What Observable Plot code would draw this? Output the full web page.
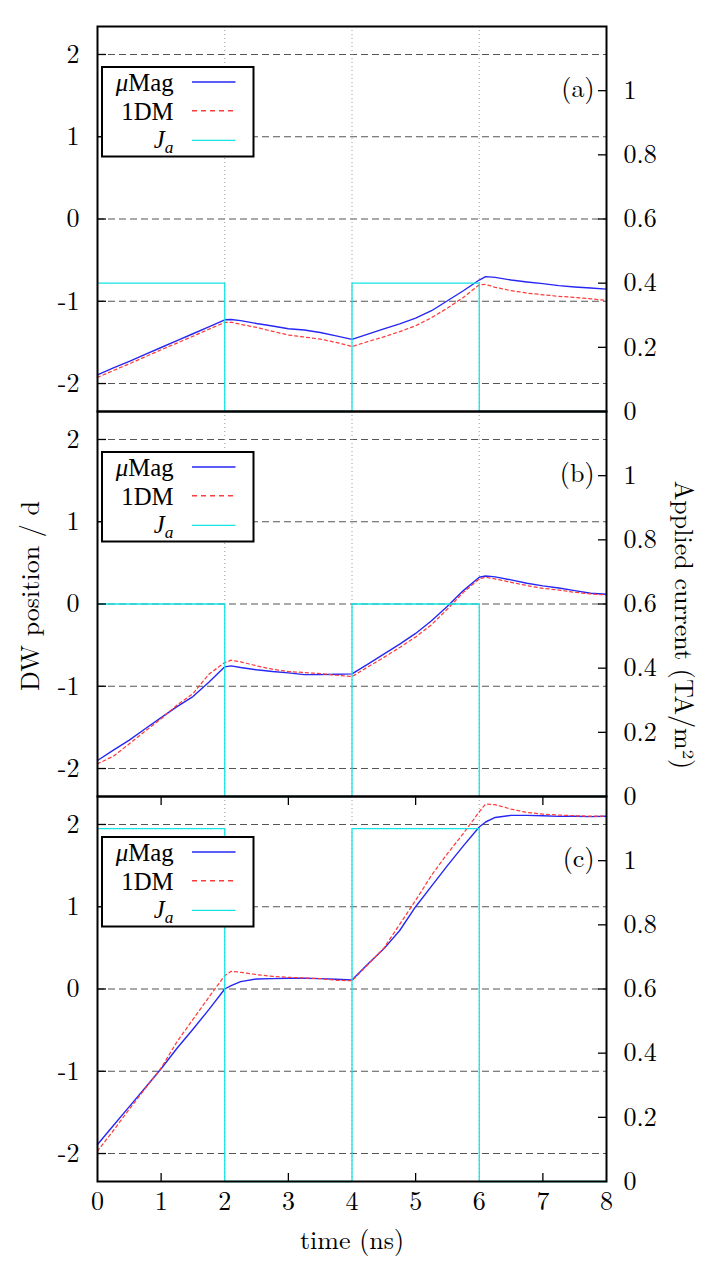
<!DOCTYPE html>
<html>
<head>
<meta charset="utf-8">
<script src="https://cdn.jsdelivr.net/npm/d3@7"></script>
<script src="https://cdn.jsdelivr.net/npm/@observablehq/plot@0.6"></script>
<style>
  body { margin: 0; background: #fff; }
  #figure { position: relative; width: 717px; height: 1284px; overflow: hidden; background: #fff; }
  #figure svg { position: absolute; left: 0; }
</style>
</head>
<body>
<div id="figure"></div>
<script>
// Sample times (ns) shared by every simulated trace
const time = [0, 0.25, 0.5, 0.75, 1, 1.25, 1.5, 1.75, 2, 2.1, 2.25, 2.5, 2.75, 3, 3.25, 3.5, 3.75, 4,
              4.25, 4.5, 4.75, 5, 5.25, 5.5, 5.75, 6, 6.1, 6.25, 6.5, 6.75, 7, 7.25, 7.5, 7.75, 8];

// Domain-wall position (units of d), micromagnetic simulation
const muMagA = [-1.894, -1.81, -1.73, -1.645, -1.562, -1.478, -1.395, -1.31, -1.225, -1.222, -1.235, -1.27,
                -1.30, -1.334, -1.35, -1.379, -1.42, -1.464, -1.40, -1.335, -1.274, -1.205, -1.115, -0.994,
                -0.872, -0.742, -0.70, -0.71, -0.742, -0.766, -0.786, -0.81, -0.826, -0.838, -0.852];
const muMagB = [-1.902, -1.776, -1.654, -1.516, -1.382, -1.248, -1.125, -0.95, -0.764, -0.752, -0.772, -0.80,
                -0.821, -0.837, -0.858, -0.858, -0.854, -0.85, -0.732, -0.61, -0.488, -0.358, -0.203, -0.028,
                0.163, 0.325, 0.341, 0.33, 0.293, 0.252, 0.22, 0.195, 0.163, 0.13, 0.118];
const muMagC = [-1.89, -1.66, -1.43, -1.20, -0.97, -0.72, -0.49, -0.25, 0.0, 0.04, 0.089, 0.122,
                0.126, 0.13, 0.13, 0.126, 0.118, 0.11, 0.305, 0.488, 0.711, 1.0, 1.25, 1.5,
                1.74, 1.97, 2.03, 2.085, 2.11, 2.11, 2.106, 2.098, 2.10, 2.095, 2.10];

// Domain-wall position (units of d), one-dimensional model
const oneDmA = [-1.926, -1.842, -1.76, -1.675, -1.59, -1.508, -1.425, -1.34, -1.257, -1.255, -1.28, -1.318,
                -1.365, -1.41, -1.435, -1.46, -1.50, -1.55, -1.49, -1.432, -1.37, -1.298, -1.20, -1.083,
                -0.953, -0.80, -0.795, -0.83, -0.87, -0.90, -0.921, -0.94, -0.953, -0.97, -0.99];
const oneDmB = [-1.943, -1.85, -1.70, -1.545, -1.394, -1.228, -1.09, -0.854, -0.711, -0.683, -0.703, -0.752,
                -0.793, -0.821, -0.833, -0.846, -0.866, -0.882, -0.764, -0.65, -0.528, -0.40, -0.252, -0.061,
                0.142, 0.305, 0.325, 0.305, 0.264, 0.224, 0.19, 0.17, 0.142, 0.122, 0.11];
const oneDmC = [-1.97, -1.72, -1.46, -1.21, -0.96, -0.64, -0.37, -0.10, 0.163, 0.215, 0.203, 0.175,
                0.154, 0.142, 0.134, 0.126, 0.106, 0.10, 0.297, 0.496, 0.785, 1.077, 1.382, 1.646,
                1.89, 2.154, 2.248, 2.24, 2.187, 2.146, 2.126, 2.114, 2.106, 2.10, 2.10];

// Applied current pulses (TA/m^2): amplitude per panel, on/off switching times
const panelNames = ["(a)", "(b)", "(c)"];
const currentLevel = [0.4, 0.6, 1.1];
const pulseTime = [0, 2, 4, 6, 8];
const pulseOn = [1, 0, 1, 0, 0];

// Tick values
const posTicks = [-2, -1, 0, 1, 2];
const currentTicks = [0, 0.2, 0.4, 0.6, 0.8, 1];
const timeTicks = [0, 1, 2, 3, 4, 5, 6, 7, 8];
const timeMarkTicks = [1, 3, 5, 7];
const timeGrid = [2, 4, 6];

const muMag = [muMagA, muMagB, muMagC];
const oneDm = [oneDmA, oneDmB, oneDmC];

const SERIF = "Latin Modern Roman, Liberation Serif, serif";
const SERIF_COMPACT = "Liberation Serif, Latin Modern Roman, serif";
const BLUE = "#2626f5", RED = "#ff3c3c", CYAN = "#14e4e4";
const W = 717, ML = 97, MR = 111, PH = 385;
const PW = W - ML - MR;
const panelTops = [26, 411, 796];
const posDomain = [-2.34, 2.34];
// right-hand current axis [0, 1.2] shares the frame with position [-2.34, 2.34]
const toPos = j => (j - 0.6) * (posDomain[1] / 0.6);

const figure = document.getElementById("figure");

function setFamily(node, family) {
  node.setAttribute("font-family", family);
  node.style.fontFamily = family;
}

function drawPanel(i) {
  const mt = i === 0 ? 26 : 12;
  const mb = i === 2 ? 103 : 12;
  const rows = time.map((t, k) => ({t, mu: muMag[i][k], dm: oneDm[i][k]}));
  const pulse = pulseTime.map((t, k) => ({t, j: pulseOn[k] * currentLevel[i]}));

  const marks = [
    Plot.ruleY(posTicks, {stroke: "#555", strokeWidth: 1.1, strokeDasharray: "7,4"}),
    Plot.ruleX(timeGrid, {stroke: "#9a9a9a", strokeWidth: 1, strokeDasharray: "1,3"}),
    Plot.line(rows, {x: "t", y: "mu", stroke: BLUE, strokeWidth: 1.4}),
    Plot.line(rows, {x: "t", y: "dm", stroke: RED, strokeWidth: 1.25, strokeDasharray: "3,3"}),
    Plot.line(pulse, {x: "t", y: d => toPos(d.j), curve: "step-after", stroke: CYAN, strokeWidth: 1.3}),
    // inward tick marks
    Plot.ruleY(posTicks, {stroke: "#000", strokeWidth: 1.3, insetRight: PW - 9}),
    Plot.ruleY(currentTicks.filter(d => d > 0), {y: toPos, stroke: "#000", strokeWidth: 1.3, insetLeft: PW - 8}),
    // tick labels
    Plot.text(posTicks, {y: d => d, text: d => String(d), frameAnchor: "left", dx: -18, textAnchor: "end"}),
    Plot.text(currentTicks, {y: toPos, text: d => String(d), frameAnchor: "right", dx: 17, textAnchor: "start"}),
    Plot.text([panelNames[i]], {frameAnchor: "top-right", dx: -12, dy: 52, textAnchor: "end"})
  ];

  if (i === 1) {
    marks.push(
      Plot.text(["DW position / d"], {frameAnchor: "left", dx: -67, dy: -8, rotate: -90, textAnchor: "middle"}),
      Plot.text(["Applied current (TA/m²)"], {frameAnchor: "right", dx: 77, dy: 21, rotate: 90, textAnchor: "middle"})
    );
  }
  if (i === 2) {
    marks.push(
      Plot.ruleX(timeMarkTicks, {stroke: "#000", strokeWidth: 1.3, insetTop: PH - 8}),
      Plot.ruleX(timeMarkTicks, {stroke: "#000", strokeWidth: 1.3, insetBottom: PH - 9}),
      Plot.text(timeTicks, {x: d => d, text: d => String(d), frameAnchor: "bottom", dy: 28, textAnchor: "middle"}),
      Plot.text(["time (ns)"], {frameAnchor: "bottom", dy: 67, textAnchor: "middle"})
    );
  }
  marks.push(Plot.frame({stroke: "#000", strokeWidth: 2}));

  const svg = Plot.plot({
    width: W,
    height: PH + mt + mb,
    marginTop: mt,
    marginBottom: mb,
    marginLeft: ML,
    marginRight: MR,
    style: {background: "transparent", overflow: "visible", fontSize: "26px", color: "#000"},
    x: {domain: [0, 8], axis: null},
    y: {domain: posDomain, axis: null},
    marks
  });
  svg.style.top = (panelTops[i] - mt) + "px";
  figure.appendChild(svg);

  // serif face on every axis label
  setFamily(svg, SERIF);
  svg.querySelectorAll("text, g").forEach(n => setFamily(n, SERIF));

  // legend box in the upper-left corner of the frame
  const g = d3.select(svg).append("g")
    .attr("transform", `translate(${ML + 5},${mt + 41})`);
  g.append("rect")
    .attr("width", 151.5).attr("height", 89.5)
    .attr("fill", "#fff").attr("stroke", "#000").attr("stroke-width", 2);
  const entries = [
    {cy: 15, stroke: BLUE, dash: null},
    {cy: 43.7, stroke: RED, dash: "5,4"},
    {cy: 73.4, stroke: CYAN, dash: null}
  ];
  entries.forEach(e => {
    g.append("line")
      .attr("x1", 90).attr("x2", 133.5).attr("y1", e.cy).attr("y2", e.cy)
      .attr("stroke", e.stroke).attr("stroke-width", 1.4)
      .attr("stroke-dasharray", e.dash);
  });
  const baselines = [24.4, 52.6, 81.2];
  const t1 = g.append("text").attr("x", 71.5).attr("y", baselines[0]).attr("text-anchor", "end");
  t1.append("tspan").attr("font-style", "italic").text("μ");
  t1.append("tspan").text("Mag");
  const t2 = g.append("text").attr("x", 71.5).attr("y", baselines[1]).attr("text-anchor", "end").text("1DM");
  const t3 = g.append("text").attr("x", 71.5).attr("y", baselines[2]).attr("text-anchor", "end");
  t3.append("tspan").attr("font-style", "italic").text("J");
  const sub = t3.append("tspan").attr("font-style", "italic").attr("dy", 5).text("a");

  // size the legend labels so that neighbouring rows keep clear of each other
  const labels = [t1, t2, t3];
  const gap = Math.min(baselines[1] - baselines[0], baselines[2] - baselines[1]) - 0.6;
  let size = 26;
  for (const family of [SERIF, SERIF_COMPACT]) {
    labels.forEach(t => { setFamily(t.node(), family); t.attr("font-size", 26); });
    sub.attr("font-size", 18);
    const h = Math.max(t1.node().getBBox().height, t2.node().getBBox().height);
    size = h > 0 ? Math.min(26, 26 * gap / h) : 26;
    if (size >= 23.5 || family === SERIF_COMPACT) break;
  }
  labels.forEach(t => t.attr("font-size", size));
  sub.attr("font-size", size * 0.7);
}

[0, 1, 2].forEach(drawPanel);
</script>
</body>
</html>
